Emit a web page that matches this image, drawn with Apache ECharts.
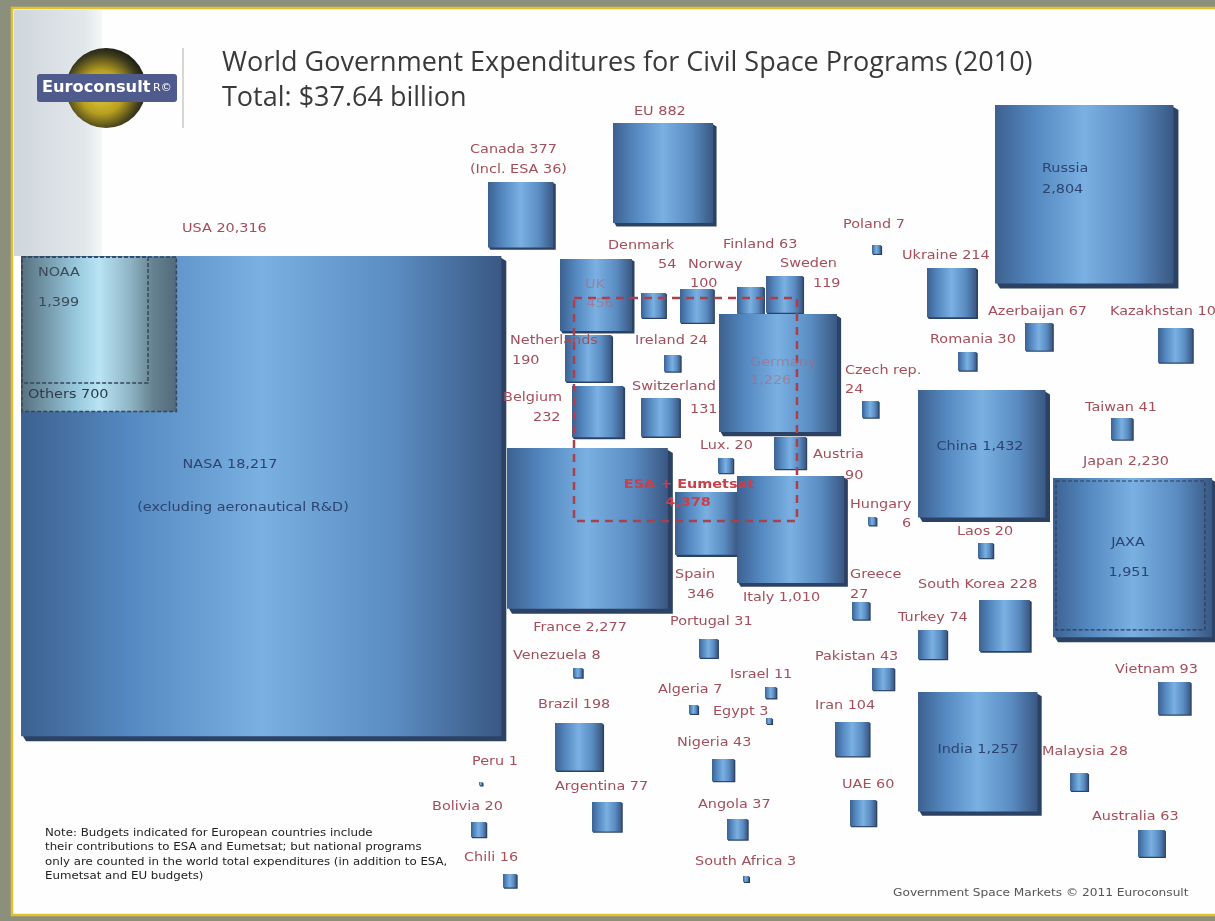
<!DOCTYPE html>
<html><head><meta charset="utf-8">
<script src="https://cdn.jsdelivr.net/npm/echarts@6/dist/echarts.min.js"></script>
<style>html,body{margin:0;padding:0;background:#8d8f7d;}#c{width:1215px;height:921px;}</style>
</head><body><div id="c"></div>
<script>
// ---------- DATA (US$ millions, 2010) ----------
const countries = ['USA','Canada','EU','UK','Denmark','Norway','Finland','Sweden','Germany','Netherlands',
  'Ireland','Belgium','Switzerland','Czech rep.','Poland','Lux.','Austria','France','Spain','Italy',
  'Hungary','Greece','Portugal','Ukraine','Russia','Azerbaijan','Kazakhstan','Romania','China','Taiwan',
  'Japan','Laos','South Korea','Turkey','Pakistan','Vietnam','Iran','India','Malaysia','UAE',
  'Australia','Venezuela','Israel','Algeria','Egypt','Brazil','Nigeria','Argentina','Angola','South Africa',
  'Peru','Bolivia','Chili'];
const budgets = [20316,377,882,456,54,100,63,119,1226,190,
  24,232,131,24,7,20,90,2277,346,1010,
  6,27,31,214,2804,67,105,30,1432,41,
  2230,20,228,74,43,93,104,1257,28,60,
  63,8,11,7,3,198,43,77,37,3,
  1,20,16];
const usaParts = ['NASA','NOAA','Others'];
const usaPartValues = [18217,1399,700];
const japanAgency = 'JAXA';
const japanAgencyValue = 1951;
const esaName = 'ESA + Eumetsat';
const esaValue = 4378;
const canadaEsaShare = 36;
const titleText = 'World Government Expenditures for Civil Space Programs (2010)';
const totalText = 'Total: $37.64 billion';

// ---------- LAYOUT (top-left corner of each tile, layout units = px) ----------
const tileAt = [[21,256],[488,182],[613,123],[560,259],[641,293],[680,289],[737,287],[766,276],[719,314],[565,335],
  [664,355],[572,386],[641,398],[862,401],[872,245],[718,458],[774,437],[507,448],[675,492],[737,476],
  [868,517],[852,602],[699,639],[927,268],[995,105],[1025,323],[1158,328],[958,352],[918,390],[1111,418],
  [1053,478],[978,543],[979,600],[918,630],[872,668],[1158,682],[835,722],[918,692],[1070,773],[850,800],
  [1138,830],[573,668],[765,687],[689,705],[766,718],[555,723],[712,759],[592,802],[727,819],[743,876],
  [479,782],[471,822],[503,874]];
// [nameX, nameY, align, valueX, valueY]  value on same line when valueX is null
const labelAt = [[182,229,'left'],[470,150,'left'],[634,112,'left'],[595,285,'center',600,304],[608,246,'left',658,265],
  [688,265,'left',690,284],[723,245,'left'],[780,264,'left',813,284],[750,363,'left',750,381],[510,341,'left',512,361],
  [635,341,'left'],[503,398,'left',533,418],[632,387,'left',690,410],[845,371,'left',845,390],[843,225,'left'],
  [700,446,'left'],[813,455,'left',845,476],[580,628,'center'],[675,575,'left',687,595],[743,598,'left'],
  [850,505,'left',902,524],[850,575,'left',850,595],[670,622,'left'],[902,256,'left'],[1042,169,'left',1042,190],
  [988,312,'left'],[1110,312,'left'],[930,340,'left'],[980,447,'center'],[1085,408,'left'],
  [1083,462,'left'],[957,532,'left'],[918,585,'left'],[898,618,'left'],[815,657,'left'],
  [1115,670,'left'],[815,706,'left'],[978,750,'center'],[1042,752,'left'],[842,785,'left'],
  [1092,817,'left'],[513,656,'left'],[730,675,'left'],[658,690,'left'],[713,712,'left'],
  [538,705,'left'],[677,743,'left'],[555,787,'left'],[698,805,'left'],[695,862,'left'],
  [472,762,'left'],[432,807,'left'],[464,858,'left']];
const K = 3.37; // px of side per sqrt($M)
const SX = 1.2;  // horizontal stretch of the reference lettering

const fmt = v => v.toLocaleString('en-US');
const RED = '#a54e5a', DARK = '#2e4470', FAINT = 'rgba(185,95,110,0.55)';
const darkInside = ['Russia','China','India'];
const faintInside = ['UK','Germany'];

// ---------- build label items ----------
const labelItems = [];
countries.forEach((n,i)=>{
  const L = labelAt[i];
  const col = darkInside.includes(n) ? DARK : (faintInside.includes(n) ? FAINT : RED);
  if (L[3] == null) labelItems.push({x:L[0],y:L[1],align:L[2],text:n+' '+fmt(budgets[i]),color:col});
  else {
    labelItems.push({x:L[0],y:L[1],align:L[2],text:n,color:col});
    labelItems.push({x:L[3],y:L[4],align:L[2],text:fmt(budgets[i]),color:col});
  }
});
labelItems.push({x:470,y:170,align:'left',text:'(Incl. ESA '+canadaEsaShare+')',color:RED});
labelItems.push({x:230,y:465,align:'center',text:usaParts[0]+' '+fmt(usaPartValues[0]),color:DARK});
labelItems.push({x:243,y:508,align:'center',text:'(excluding aeronautical R&D)',color:DARK});
labelItems.push({x:38,y:273,align:'left',text:usaParts[1],color:'#3a4a58'});
labelItems.push({x:38,y:303,align:'left',text:fmt(usaPartValues[1]),color:'#3a4a58'});
labelItems.push({x:28,y:395,align:'left',text:usaParts[2]+' '+fmt(usaPartValues[2]),color:'#2c3c48'});
labelItems.push({x:1128,y:543,align:'center',text:japanAgency,color:DARK});
labelItems.push({x:1129,y:573,align:'center',text:fmt(japanAgencyValue),color:DARK});
labelItems.push({x:689,y:485,align:'center',text:esaName,color:'#c8404c',bold:true});
labelItems.push({x:688,y:503,align:'center',text:fmt(esaValue),color:'#c8404c',bold:true});

// overlays: [x, y, value, kind]
const overlays = [
  [tileAt[0][0], tileAt[0][1], usaPartValues[1]+usaPartValues[2], 0],
  [tileAt[0][0], tileAt[0][1], usaPartValues[1], 1],
  [1055, 480, japanAgencyValue, 2],
  [573, 297, esaValue, 3]
];

function tileGrad(){
  return new echarts.graphic.LinearGradient(0,0,1,0,[
    {offset:0,color:'#3d6190'},{offset:0.22,color:'#5488c0'},{offset:0.5,color:'#7ab0e2'},
    {offset:0.78,color:'#5a8cc2'},{offset:1,color:'#3a5883'}]);
}
function renderTile(params, api){
  const p = api.coord([api.value(0), api.value(1)]);
  const side = K*Math.sqrt(api.value(2));
  const s = api.size([side, side]);
  const w = s[0], h = s[1], x = p[0], y = p[1];
  const o = Math.max(1.2, Math.min(5, w*0.035));
  return {type:'group', children:[
    {type:'polygon', shape:{points:[[x+w,y+o*0.4],[x+w+o,y+o],[x+w+o,y+h+o],[x+o,y+h+o],[x+o*0.4,y+h]]},
      style:{fill:'#2c4264'}},
    {type:'rect', shape:{x:x,y:y,width:w,height:h}, style:{fill:tileGrad()}}
  ]};
}
function renderOverlay(params, api){
  const p = api.coord([api.value(0), api.value(1)]);
  const side = K*Math.sqrt(api.value(2));
  const s = api.size([side, side]);
  const kind = api.value(3);
  const shape = {x:p[0]+1, y:p[1]+1, width:s[0], height:s[1]};
  if (kind === 0) return {type:'rect', shape,
    style:{fill:new echarts.graphic.LinearGradient(0,0,1,0,[
      {offset:0,color:'#56707f'},{offset:0.35,color:'#98c8dc'},{offset:0.5,color:'#b8e4f4'},
      {offset:0.7,color:'#8fb4c4'},{offset:0.85,color:'#64808e'},{offset:1,color:'#52697a'}]),
      stroke:'#34465a', lineWidth:1.5, lineDash:[4,2]}};
  if (kind === 1) return {type:'rect', shape, style:{fill:'none', stroke:'#34465a', lineWidth:1.5, lineDash:[4,2]}};
  if (kind === 2) return {type:'rect', shape, style:{fill:'none', stroke:'#2a3c5e', lineWidth:1.2, lineDash:[4,2]}};
  return {type:'rect', shape, style:{fill:'none', stroke:'#a8404e', lineWidth:2.5, lineDash:[8,6]}};
}
function renderLabel(params, api){
  const it = labelItems[api.value(2)];
  const p = api.coord([api.value(0), api.value(1)]);
  return {type:'text', x:p[0], y:p[1], scaleX:SX, style:{text:it.text, fill:it.color,
    font:(it.bold?'bold ':'')+'12px "DejaVu Sans"', align:it.align, verticalAlign:'middle',
    textAlign:it.align, textVerticalAlign:'middle'}};
}

const chart = echarts.init(document.getElementById('c'));
const noteLines = ['Note: Budgets indicated for European countries include',
  'their contributions to ESA and Eumetsat; but national programs',
  'only are counted in the world total expenditures (in addition to ESA,',
  'Eumetsat and EU budgets)'];
chart.setOption({
  animation:false,
  title:[
    {text:titleText, left:217, top:45, textStyle:{fontFamily:'Open Sans', fontSize:27, fontWeight:'normal', color:'#3a3a3a'}},
    {text:totalText, left:217, top:80, textStyle:{fontFamily:'Open Sans', fontSize:27, fontWeight:'normal', color:'#3a3a3a'}}
  ],
  grid:{left:0,right:0,top:0,bottom:0},
  xAxis:{type:'value', min:0, max:1215, show:false},
  yAxis:{type:'value', min:0, max:921, inverse:true, show:false},
  graphic:[
    {type:'rect', z:-10, shape:{x:0,y:0,width:1215,height:921}, style:{fill:'#8d8f7d'}},
    {type:'rect', z:-9, shape:{x:12,y:8,width:1210,height:907}, style:{fill:'#fefefe', stroke:'#e2c22c', lineWidth:2.5}},
    {type:'rect', z:-8, shape:{x:14,y:10,width:88,height:246},
      style:{fill:new echarts.graphic.LinearGradient(0,0,1,0,[{offset:0,color:'#cfd6dc'},{offset:0.8,color:'#e2e7ea'},{offset:1,color:'#f6f7f8'}])}},
    {type:'line', z:-7, shape:{x1:183,y1:48,x2:183,y2:128}, style:{stroke:'#c8c8c8', lineWidth:1.5}},
    {type:'circle', z:-7, shape:{cx:106,cy:88,r:40},
      style:{fill:new echarts.graphic.RadialGradient(0.45,0.55,0.6,[{offset:0,color:'#e8d040'},{offset:0.45,color:'#b8a020'},{offset:0.8,color:'#3c3a1c'},{offset:1,color:'#151510'}])}},
    {type:'rect', z:-6, shape:{x:37,y:74,width:140,height:28,r:3}, style:{fill:'#4f5b8c'}},
    {type:'text', z:-5, x:42, y:88, scaleX:1.2, style:{text:'Euroconsult', fill:'#ffffff', font:'bold 15px "DejaVu Sans Condensed", "DejaVu Sans"', verticalAlign:'middle', textVerticalAlign:'middle'}},
    {type:'text', z:-5, x:153, y:88, style:{text:'R©', fill:'#ffffff', font:'11px "DejaVu Sans"', verticalAlign:'middle', textVerticalAlign:'middle'}},
    {type:'text', z:-5, x:45, y:855, scaleX:1.18, style:{text:noteLines.join('\n'), fill:'#222', font:'10px "DejaVu Sans"', lineHeight:14.5, verticalAlign:'middle', textVerticalAlign:'middle'}},
    {type:'text', z:-5, x:893, y:893, scaleX:1.16, style:{text:'Government Space Markets © 2011 Euroconsult', fill:'#555', font:'10.5px "DejaVu Sans"', verticalAlign:'middle', textVerticalAlign:'middle'}}
  ],
  series:[
    {type:'custom', name:'tiles', coordinateSystem:'cartesian2d', renderItem:renderTile, z:3,
      data: countries.map((n,i)=>({name:n, value:[tileAt[i][0], tileAt[i][1], budgets[i]]}))},
    {type:'custom', name:'overlays', coordinateSystem:'cartesian2d', renderItem:renderOverlay, z:4, data:overlays},
    {type:'custom', name:'labels', coordinateSystem:'cartesian2d', renderItem:renderLabel, z:5,
      data: labelItems.map((it,i)=>[it.x,it.y,i])}
  ]
});
</script></body></html>
